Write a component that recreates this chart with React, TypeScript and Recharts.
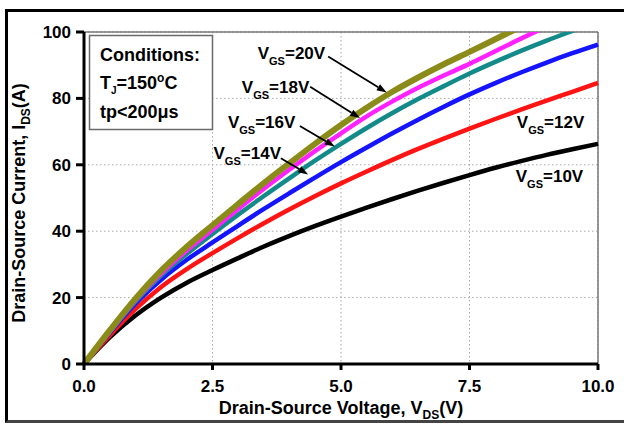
import {
  LineChart,
  Line,
  XAxis,
  YAxis,
  CartesianGrid,
  ReferenceLine,
  ReferenceDot,
} from "recharts";

// Drain-source voltage sample points (V)
const vds = [0, 0.5, 1, 1.5, 2, 2.5, 3, 3.5, 4, 4.5, 5, 5.5, 6, 6.5, 7, 7.5, 8, 8.5, 9, 9.5, 10];

// Drain-source current (A) per gate voltage
const vgs10 = [0, 8, 14.6, 20, 24.5, 28.3, 31.9, 35.4, 38.6, 41.6, 44.4, 47.1, 49.7, 52.2, 54.6, 56.9, 59.1, 61.1, 63, 64.7, 66.3];
const vgs12 = [0, 8.6, 16.5, 23.2, 28.6, 33.4, 38, 42.4, 46.6, 50.6, 54.4, 58, 61.5, 64.8, 67.9, 70.9, 73.8, 76.6, 79.3, 82, 84.7];
const vgs14 = [0, 9.4, 18.2, 25.4, 31.4, 36.6, 41.7, 46.7, 51.5, 56.2, 60.8, 65.2, 69.5, 73.6, 77.5, 81.2, 84.6, 87.8, 90.8, 93.6, 96.2];
const vgs16 = [0, 9.6, 18.8, 26.6, 33.2, 39.2, 45, 50.6, 56, 61.3, 66.3, 71.1, 75.6, 79.8, 83.7, 87.5, 91, 94.3, 97.4, 100.3, 103.1];
const vgs18 = [0, 9.8, 19.2, 27.2, 34.2, 40.4, 46.7, 52.8, 58.6, 64.2, 69.5, 74.6, 79.1, 83.2, 86.9, 90.4, 94.2, 98, 101.6, 105, 108.3];
const vgs20 = [0, 10.1, 19.7, 28.1, 35.3, 41.8, 48.2, 54.5, 60.5, 66.4, 72, 77.2, 82, 86.3, 90.3, 94, 97.8, 101.6, 105.2, 108.7, 112];

const xTicks = [0, 2.5, 5, 7.5, 10];
const yTicks = [0, 20, 40, 60, 80, 100];

const data = vds.map((v, i) => ({
  vds: v,
  v10: vgs10[i],
  v12: vgs12[i],
  v14: vgs14[i],
  v16: vgs16[i],
  v18: vgs18[i],
  v20: vgs20[i],
}));

const FONT = "'Liberation Sans', Arial, Helvetica, sans-serif";

// curve labels (data coords of the "V" baseline-left) and arrows
const labels = [
  { name: "20", x: 3.38, y: 92.0 },
  { name: "18", x: 3.07, y: 81.7 },
  { name: "16", x: 2.8, y: 71.1 },
  { name: "14", x: 2.52, y: 61.8 },
  { name: "12", x: 8.42, y: 71.1 },
  { name: "10", x: 8.4, y: 54.8 },
];

const arrows = [
  [{ x: 4.75, y: 92.6 }, { x: 5.89, y: 81.8 }],
  [{ x: 4.4, y: 83.5 }, { x: 5.37, y: 74.1 }],
  [{ x: 4.2, y: 71.7 }, { x: 4.88, y: 65.5 }],
  [{ x: 3.83, y: 62 }, { x: 4.36, y: 57.1 }],
];

const ArrowShape = (p: any) => {
  const { x1, y1, x2, y2 } = p;
  const dx = x2 - x1;
  const dy = y2 - y1;
  const len = Math.sqrt(dx * dx + dy * dy) || 1;
  const ux = dx / len;
  const uy = dy / len;
  const hl = 10;
  const hw = 3.5;
  const bx = x2 - ux * hl;
  const by = y2 - uy * hl;
  return (
    <g>
      <line x1={x1} y1={y1} x2={bx} y2={by} stroke="#000" strokeWidth={1.8} />
      <polygon
        points={`${x2},${y2} ${bx - uy * hw},${by + ux * hw} ${bx + uy * hw},${by - ux * hw}`}
        fill="#000"
      />
    </g>
  );
};

const vgsLabel = (name: string) => (p: any) => (
  <text x={p.cx} y={p.cy} fontFamily={FONT} fontWeight="bold" fontSize={17} fill="#000">
    <tspan>V</tspan>
    <tspan fontSize={11} dy={6}>GS</tspan>
    <tspan dy={-6}>={name}V</tspan>
  </text>
);

const XTitle = (p: any) => {
  const vb = p.viewBox;
  return (
    <text x={vb.x + vb.width / 2} y={vb.y + 50} textAnchor="middle" fontFamily={FONT} fontWeight="bold" fontSize={18} fill="#000">
      <tspan>Drain-Source Voltage, V</tspan>
      <tspan fontSize={12} dy={5}>DS</tspan>
      <tspan dy={-5}>(V)</tspan>
    </text>
  );
};

const YTitle = (p: any) => {
  const vb = p.viewBox;
  const cx = 25;
  const cy = vb.y + vb.height / 2 + 5;
  return (
    <text x={cx} y={cy} transform={`rotate(-90, ${cx}, ${cy})`} textAnchor="middle" fontFamily={FONT} fontWeight="bold" fontSize={18} fill="#000">
      <tspan>Drain-Source Current, I</tspan>
      <tspan fontSize={12} dy={5}>DS</tspan>
      <tspan dy={-5}>(A)</tspan>
    </text>
  );
};

const tickStyle = { fill: "#000", fontSize: 17, fontWeight: "bold", fontFamily: FONT };

export default function App() {
  return (
    <div style={{ position: "absolute", left: 0, top: 0, width: 624, height: 426, background: "#fff", overflow: "hidden" }}>
      <div
        style={{
          position: "absolute",
          left: 5,
          top: 9,
          width: 700,
          height: 414,
          borderTop: "3px solid #000",
          borderLeft: "3px solid #000",
          borderBottom: "3px solid #444",
          boxSizing: "border-box",
        }}
      />
      <div style={{ position: "absolute", left: 0, top: 0 }}>
        <LineChart width={624} height={426} data={data} margin={{ top: 32, right: 26, left: 0, bottom: 0 }}>
          <CartesianGrid stroke="#a8a8a8" strokeDasharray="1.5 2.5" strokeWidth={1} />
          <XAxis
            dataKey="vds"
            type="number"
            domain={[0, 10]}
            ticks={xTicks}
            tickFormatter={(v: number) => v.toFixed(1)}
            height={62}
            axisLine={{ stroke: "#000", strokeWidth: 3 }}
            tickLine={{ stroke: "#000", strokeWidth: 3 }}
            tickSize={6}
            tickMargin={10}
            tick={tickStyle}
            label={{ content: XTitle }}
          />
          <YAxis
            type="number"
            domain={[0, 100]}
            allowDataOverflow
            ticks={yTicks}
            width={84}
            axisLine={{ stroke: "#000", strokeWidth: 3 }}
            tickLine={{ stroke: "#000", strokeWidth: 3 }}
            tickSize={8}
            tickMargin={5}
            tick={tickStyle}
            label={{ content: YTitle }}
          />
          <ReferenceLine y={100} stroke="#777" strokeWidth={1.5} />
          <ReferenceLine x={10} stroke="#777" strokeWidth={1.5} />
          <Line dataKey="v10" type="monotone" stroke="#000000" strokeWidth={4.5} dot={false} isAnimationActive={false} />
          <Line dataKey="v12" type="monotone" stroke="#ff1414" strokeWidth={4.5} dot={false} isAnimationActive={false} />
          <Line dataKey="v14" type="monotone" stroke="#1414ff" strokeWidth={4.5} dot={false} isAnimationActive={false} />
          <Line dataKey="v16" type="monotone" stroke="#138a8a" strokeWidth={4.5} dot={false} isAnimationActive={false} />
          <Line dataKey="v18" type="monotone" stroke="#ff22ff" strokeWidth={4.5} dot={false} isAnimationActive={false} />
          <Line dataKey="v20" type="monotone" stroke="#8b8b1a" strokeWidth={6} dot={false} isAnimationActive={false} />
          {arrows.map((seg, i) => (
            <ReferenceLine key={`a${i}`} segment={seg} shape={ArrowShape} />
          ))}
          {labels.map((l) => (
            <ReferenceDot key={l.name} x={l.x} y={l.y} r={0} shape={vgsLabel(l.name)} />
          ))}
        </LineChart>
      </div>
      <svg width={624} height={426} style={{ position: "absolute", left: 0, top: 0, pointerEvents: "none" }}>
        <rect x={89.5} y={35.5} width={123} height={94} fill="#fff" stroke="#6a6a6a" strokeWidth={1.5} />
        <g fontFamily={FONT} fontWeight="bold" fontSize={18} fill="#000">
          <text x={100} y={61}>Conditions:</text>
          <text x={100} y={89}>
            <tspan>T</tspan>
            <tspan fontSize={10} dy={5}>J</tspan>
            <tspan dy={-5}>=150</tspan>
            <tspan fontSize={12} dy={-7}>o</tspan>
            <tspan dy={7}>C</tspan>
          </text>
          <text x={100} y={118}>tp&lt;200μs</text>
        </g>
      </svg>
    </div>
  );
}
